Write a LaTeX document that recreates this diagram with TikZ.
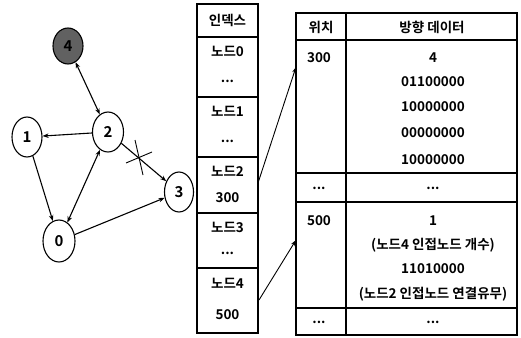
\documentclass[tikz,border=0pt]{standalone}
\usepackage{fontspec}
\setmainfont{Noto Sans CJK KR}[BoldFont={Noto Sans CJK KR Bold}]
\usetikzlibrary{shapes.geometric,arrows.meta}
\begin{document}
\begin{tikzpicture}[x=1pt,y=-1pt,
  gnode/.style={ellipse,draw,line width=1.1pt,minimum width=31pt,minimum height=40pt,inner sep=0pt,font=\fontsize{15}{15}\selectfont\bfseries},
  edge/.style={line width=1.1pt,-{Stealth[length=6pt,width=4.5pt]}},
  bedge/.style={line width=1.1pt,{Stealth[length=6pt,width=4.5pt]}-{Stealth[length=6pt,width=4.5pt]}},
  tbl/.style={line width=1.1pt},
  txt/.style={inner sep=0pt,font=\fontsize{13.5}{13.5}\selectfont\bfseries},
  ptr/.style={line width=0.9pt,-{Stealth[length=6pt,width=4pt]}}]
\useasboundingbox (0,0) rectangle (521,337);
% graph
\node[gnode,fill=black!62,minimum width=30pt,minimum height=36pt] (n4) at (68,46) {4};
\node[gnode] (n2) at (108,132) {2};
\node[gnode,minimum width=30pt] (n1) at (27,137) {1};
\node[gnode,minimum width=29pt] (n3) at (179,192) {3};
\node[gnode,minimum width=32pt,minimum height=42pt] (n0) at (59,241) {0};
\draw[bedge] (n4) -- (n2);
\draw[edge] (n2) -- (n1);
\draw[edge] (n1) -- (n0);
\draw[bedge] (n2) -- (n0);
\draw[edge] (n0) -- (n3);
\draw[edge] (n2) -- (n3);
\coordinate (x1a) at (126,163); \coordinate (x1b) at (152,152);
\coordinate (x2a) at (135,140); \coordinate (x2b) at (143,175);
\draw[line width=0.9pt] (x1a) -- (x1b);
\draw[line width=0.9pt] (x2a) -- (x2b);
% index table
\draw[tbl] (197,4) rectangle (258,333);
\foreach \yy in {37,97,157,213,268} \draw[tbl] (197,\yy) -- (258,\yy);
\node[txt] (ih) at (227.5,20) {인덱스};
\node[txt] (i0a) at (227.5,51) {노드0};
\node[txt] (i0b) at (227.5,81) {...};
\node[txt] (i1a) at (227.5,111) {노드1};
\node[txt] (i1b) at (227.5,141) {...};
\node[txt] (i2a) at (227.5,171) {노드2};
\node[txt] (i2b) at (227.5,198) {300};
\node[txt] (i3a) at (227.5,227) {노드3};
\node[txt] (i3b) at (227.5,253) {...};
\node[txt] (i4a) at (227.5,283) {노드4};
\node[txt] (i4b) at (227.5,315) {500};
% data table
\draw[tbl] (296,13) rectangle (517,335);
\draw[tbl] (346,13) -- (346,335);
\foreach \yy in {40,173,202,308} \draw[tbl] (296,\yy) -- (517,\yy);
\node[txt] (hp) at (321,27) {위치};
\node[txt] (hd) at (432,27) {방향 데이터};
\node[txt] (p300) at (319,58) {300};
\node[txt] (d1) at (433,58) {4};
\node[txt] (d2) at (433,82) {01100000};
\node[txt] (d3) at (433,107) {10000000};
\node[txt] (d4) at (433,133) {00000000};
\node[txt] (d5) at (433,160) {10000000};
\node[txt] (e1) at (319,188) {...};
\node[txt] (e2) at (433,188) {...};
\node[txt] (p500) at (319,221) {500};
\node[txt] (f1) at (433,221) {1};
\node[txt] (f2) at (433,245) {(노드4 인접노드 개수)};
\node[txt] (f3) at (433,269) {11010000};
\node[txt] (f4) at (433,294) {(노드2 인접노드 연결유무)};
\node[txt] (g1) at (319,322) {...};
\node[txt] (g2) at (433,322) {...};
% pointers
\coordinate (s2) at (258,183); \coordinate (t2) at (296,67);
\coordinate (s4) at (259,300); \coordinate (t4) at (296,240);
\draw[ptr] (s2) -- (t2);
\draw[ptr] (s4) -- (t4);
\end{tikzpicture}
\end{document}
